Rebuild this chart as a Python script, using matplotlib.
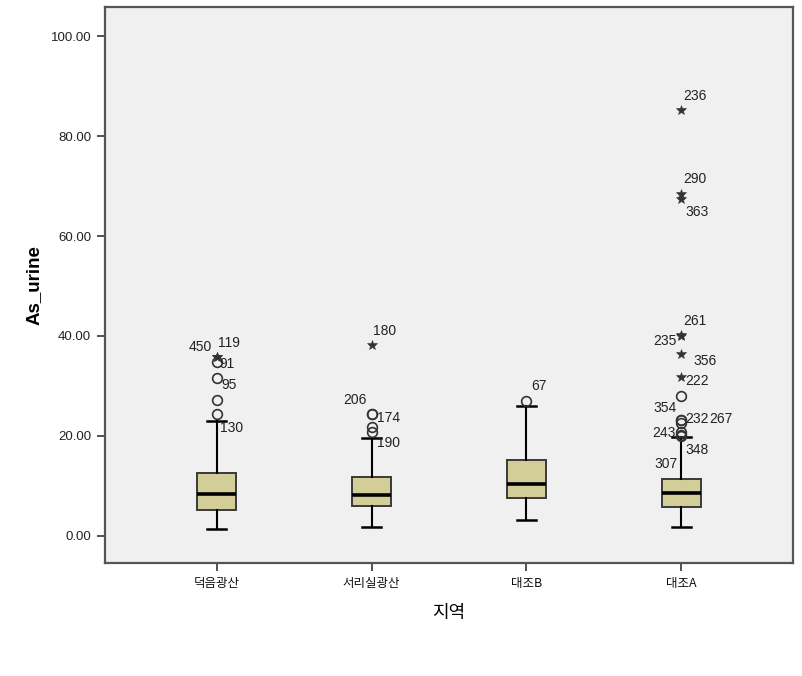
import matplotlib
matplotlib.use("Agg")
import matplotlib.pyplot as plt

# categories and box statistics
groups = ["덕음광산", "서리실광산", "대조B", "대조A"]
whislo = [1.4, 1.7, 3.2, 1.7]
q1 = [5.1, 6.0, 7.5, 5.7]
medians = [8.4, 8.2, 10.4, 8.5]
q3 = [12.6, 11.7, 15.2, 11.3]
whishi = [23.0, 19.5, 25.9, 19.7]

# outliers: value, kind ('o' = outlier, '*' = extreme), case label
outlier_values = [
    [35.8, 35.7, 34.8, 31.5, 27.1, 24.4],
    [38.1, 24.4, 24.3, 21.7, 20.8],
    [27.0],
    [85.2, 68.4, 67.4, 40.1, 40.0, 36.3, 31.7, 28.0, 23.2, 23.1, 22.5, 20.8, 20.2, 20.0],
]
outlier_kinds = [
    ["*", "*", "o", "o", "o", "o"],
    ["*", "o", "o", "o", "o"],
    ["o"],
    ["*", "*", "*", "*", "*", "*", "*", "o", "o", "o", "o", "o", "o", "o"],
]
outlier_labels = [
    ["450", "119", "91", "95", "", "130"],
    ["180", "174", "206", "", "190"],
    ["67"],
    ["236", "290", "363", "261", "235", "356", "222", "", "354", "232", "267", "243", "348", "307"],
]

# label offsets in pixels relative to the marker (layout only)
label_offsets = [
    [(-28, 10), (1, 14), (3, -2), (5, -7), (0, 0), (3, -14)],
    [(1, 14), (5, -4), (-28, 14), (0, 0), (5, -11)],
    [(5, 15)],
    [(2, 14), (2, 15), (4, -13), (2, 14), (-28, -5), (12, -7), (4, -4), (0, 0),
     (-28, 12), (4, 1), (28, 4), (-29, -1), (4, -15), (-27, -28)],
]

box_color = "#D3CE98"
edge_color = "#3a3a3a"

fig = plt.figure(figsize=(8.03, 6.76), dpi=100)
ax = fig.add_axes([0.1308, 0.1672, 0.8567, 0.8224])
ax.set_facecolor("#F0F0F0")

stats = []
for i, g in enumerate(groups):
    stats.append({
        "label": g,
        "whislo": whislo[i],
        "q1": q1[i],
        "med": medians[i],
        "q3": q3[i],
        "whishi": whishi[i],
        "fliers": [],
    })

positions = range(1, len(groups) + 1)
ax.bxp(stats, positions=positions, widths=0.25, capwidths=0.123,
       showfliers=False, patch_artist=True,
       boxprops=dict(facecolor=box_color, edgecolor=edge_color, linewidth=1.4),
       medianprops=dict(color="black", linewidth=2.6),
       whiskerprops=dict(color="black", linewidth=1.5),
       capprops=dict(color="black", linewidth=1.8))

# outlier markers and case labels
for i, pos in enumerate(positions):
    for v, k, lab, off in zip(outlier_values[i], outlier_kinds[i],
                              outlier_labels[i], label_offsets[i]):
        if k == "o":
            ax.plot(pos, v, marker="o", markersize=7, markerfacecolor="none",
                    markeredgecolor="#333333", markeredgewidth=1.2, linestyle="none")
        else:
            ax.plot(pos, v, marker="*", markersize=7, color="#333333",
                    markeredgewidth=0.4, linestyle="none")
        if lab:
            ax.annotate(lab, (pos, v), xytext=off, textcoords="offset pixels",
                        ha="left", va="center", fontsize=10,
                        family="Liberation Sans", color="#222222")

ax.set_xlim(0.28, 4.72)
ax.set_ylim(-5.4, 105.8)
ax.set_yticks([0, 20, 40, 60, 80, 100])
ax.set_yticklabels(["0.00", "20.00", "40.00", "60.00", "80.00", "100.00"],
                   family="Liberation Sans", fontsize=9.5, color="#222222")
ax.set_xticks(list(positions))
ax.set_xticklabels(groups, family="Noto Sans CJK KR", fontsize=9, color="#111111")
ax.tick_params(axis="both", direction="out", length=6, width=1.2, color="#333333")
ax.tick_params(axis="x", pad=4)
ax.tick_params(axis="y", pad=4)

for s in ax.spines.values():
    s.set_color("#555555")
    s.set_linewidth(1.6)

ax.set_ylabel("As_urine", family="Liberation Sans", fontsize=13.5,
              fontweight="bold", labelpad=6)
ax.set_xlabel("지역", family="Noto Sans CJK KR", fontsize=13, labelpad=10)

fig.savefig("out.png", dpi=100, facecolor="white")
